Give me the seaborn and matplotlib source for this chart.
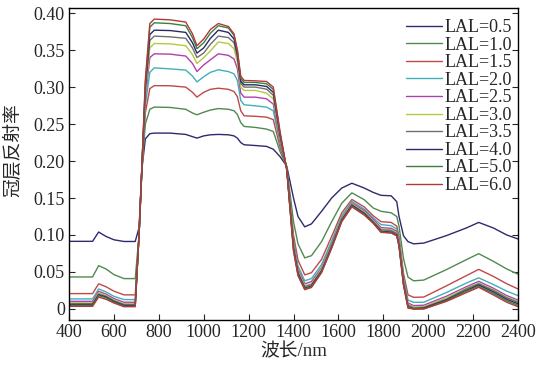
import numpy as np
import pandas as pd
import matplotlib
matplotlib.use("Agg")
import matplotlib.pyplot as plt
import seaborn as sns

# wavelength grid (nm)
wavelength = [400, 505, 532, 565, 600, 645, 695, 712, 725, 740, 760, 780, 850, 920, 950, 970,
              1000, 1030, 1065, 1110, 1135, 1150, 1165, 1180, 1230, 1280, 1310, 1340, 1370,
              1400, 1420, 1450, 1480, 1525, 1570, 1615, 1660, 1715, 1755, 1790, 1835, 1860,
              1870, 1890, 1910, 1935, 1980, 2080, 2170, 2225, 2290, 2350, 2400]

# canopy reflectance per leaf area level
lal_05 = [0.0914, 0.0914, 0.104, 0.098, 0.0935, 0.0912, 0.0912, 0.11, 0.19, 0.230, 0.237, 0.2378,
          0.2378, 0.236, 0.233, 0.231, 0.234, 0.2355, 0.236, 0.2355, 0.234, 0.231, 0.225, 0.222,
          0.221, 0.2198, 0.216, 0.206, 0.193, 0.150, 0.125, 0.111, 0.115, 0.132, 0.150, 0.1635,
          0.170, 0.1635, 0.1576, 0.1536, 0.153, 0.145, 0.125, 0.099, 0.091, 0.088, 0.089, 0.099,
          0.1095, 0.117, 0.1095, 0.100, 0.0946]
lal_10 = [0.0432, 0.0432, 0.0585, 0.054, 0.0464, 0.041, 0.041, 0.10, 0.19, 0.250, 0.270, 0.273,
          0.2725, 0.270, 0.265, 0.2626, 0.266, 0.269, 0.271, 0.270, 0.268, 0.263, 0.252, 0.2468,
          0.2455, 0.2432, 0.240, 0.213, 0.192, 0.118, 0.088, 0.069, 0.072, 0.091, 0.118, 0.143,
          0.157, 0.1477, 0.1365, 0.132, 0.130, 0.125, 0.112, 0.068, 0.043, 0.038, 0.039, 0.053,
          0.0666, 0.0747, 0.0644, 0.054, 0.047]
lal_15 = [0.0207, 0.0207, 0.034, 0.030, 0.024, 0.019, 0.019, 0.10, 0.19, 0.265, 0.298, 0.302,
          0.3018, 0.300, 0.293, 0.2865, 0.293, 0.297, 0.2985, 0.297, 0.294, 0.287, 0.268, 0.2612,
          0.2605, 0.2594, 0.256, 0.219, 0.191, 0.100, 0.066, 0.046, 0.049, 0.067, 0.098, 0.130,
          0.148, 0.138, 0.126, 0.118, 0.117, 0.112, 0.098, 0.048, 0.019, 0.0157, 0.016, 0.031,
          0.045, 0.0535, 0.044, 0.034, 0.027]
lal_20 = [0.0135, 0.0135, 0.027, 0.023, 0.017, 0.0126, 0.0126, 0.10, 0.19, 0.275, 0.320, 0.326,
          0.3247, 0.323, 0.315, 0.307, 0.314, 0.320, 0.3234, 0.321, 0.318, 0.309, 0.282, 0.2761,
          0.2747, 0.2729, 0.268, 0.224, 0.191, 0.093, 0.058, 0.038, 0.041, 0.060, 0.092, 0.126,
          0.1454, 0.135, 0.123, 0.114, 0.1126, 0.108, 0.094, 0.042, 0.012, 0.0089, 0.009, 0.022,
          0.035, 0.042, 0.033, 0.024, 0.018]
lal_25 = [0.0103, 0.0103, 0.0238, 0.020, 0.014, 0.009, 0.009, 0.10, 0.195, 0.285, 0.340, 0.345,
          0.3446, 0.342, 0.332, 0.321, 0.330, 0.337, 0.345, 0.343, 0.338, 0.325, 0.292, 0.2864,
          0.2864, 0.2842, 0.277, 0.228, 0.190, 0.089, 0.054, 0.034, 0.037, 0.056, 0.088, 0.123,
          0.1432, 0.133, 0.121, 0.110, 0.109, 0.105, 0.091, 0.038, 0.008, 0.0045, 0.005, 0.017,
          0.030, 0.0373, 0.028, 0.018, 0.012]
lal_30 = [0.0081, 0.0081, 0.0216, 0.018, 0.012, 0.0068, 0.0068, 0.10, 0.195, 0.290, 0.353, 0.359,
          0.3585, 0.356, 0.344, 0.332, 0.340, 0.349, 0.361, 0.359, 0.352, 0.334, 0.300, 0.2955,
          0.2955, 0.2918, 0.284, 0.232, 0.190, 0.086, 0.051, 0.0315, 0.034, 0.054, 0.086, 0.122,
          0.142, 0.131, 0.119, 0.108, 0.107, 0.103, 0.089, 0.036, 0.006, 0.003, 0.003, 0.015,
          0.028, 0.0351, 0.026, 0.016, 0.010]
lal_35 = [0.0072, 0.0072, 0.020, 0.017, 0.011, 0.006, 0.006, 0.10, 0.195, 0.295, 0.363, 0.369,
          0.368, 0.366, 0.353, 0.340, 0.346, 0.358, 0.369, 0.367, 0.360, 0.340, 0.305, 0.300,
          0.300, 0.2972, 0.289, 0.234, 0.189, 0.084, 0.049, 0.030, 0.033, 0.052, 0.085, 0.121,
          0.141, 0.130, 0.118, 0.107, 0.106, 0.102, 0.088, 0.035, 0.005, 0.0015, 0.002, 0.013,
          0.027, 0.034, 0.025, 0.015, 0.009]
lal_40 = [0.0058, 0.0058, 0.019, 0.016, 0.010, 0.0045, 0.0045, 0.10, 0.195, 0.300, 0.371, 0.377,
          0.3765, 0.374, 0.360, 0.346, 0.353, 0.366, 0.377, 0.374, 0.365, 0.345, 0.308, 0.3031,
          0.3031, 0.3009, 0.293, 0.236, 0.189, 0.082, 0.048, 0.028, 0.031, 0.051, 0.084, 0.120,
          0.140, 0.129, 0.117, 0.105, 0.104, 0.100, 0.086, 0.034, 0.003, 0.000, 0.001, 0.012,
          0.025, 0.0324, 0.023, 0.013, 0.007]
lal_50 = [0.0049, 0.0049, 0.018, 0.015, 0.009, 0.0036, 0.0036, 0.10, 0.195, 0.305, 0.381, 0.387,
          0.386, 0.383, 0.367, 0.352, 0.360, 0.373, 0.383, 0.380, 0.370, 0.349, 0.312, 0.3063,
          0.3063, 0.3045, 0.297, 0.238, 0.188, 0.080, 0.046, 0.027, 0.030, 0.050, 0.083, 0.119,
          0.139, 0.128, 0.116, 0.104, 0.103, 0.099, 0.085, 0.033, 0.002, 0.000, 0.000, 0.011,
          0.024, 0.0306, 0.021, 0.011, 0.005]
lal_60 = [0.0035, 0.0035, 0.016, 0.013, 0.008, 0.003, 0.003, 0.10, 0.195, 0.310, 0.386, 0.392,
          0.391, 0.388, 0.372, 0.356, 0.365, 0.378, 0.386, 0.382, 0.372, 0.350, 0.315, 0.309,
          0.3085, 0.3076, 0.300, 0.240, 0.188, 0.078, 0.045, 0.026, 0.029, 0.049, 0.082, 0.118,
          0.138, 0.127, 0.116, 0.1035, 0.1027, 0.099, 0.085, 0.032, 0.001, 0.000, 0.000, 0.010,
          0.022, 0.0292, 0.019, 0.009, 0.003]

labels = ["LAL=0.5", "LAL=1.0", "LAL=1.5", "LAL=2.0", "LAL=2.5",
          "LAL=3.0", "LAL=3.5", "LAL=4.0", "LAL=5.0", "LAL=6.0"]
series = [lal_05, lal_10, lal_15, lal_20, lal_25, lal_30, lal_35, lal_40, lal_50, lal_60]
colors = ["#2e2a6e", "#4f8a4f", "#c04848", "#3fb0b8", "#b040b0",
          "#b8c840", "#707070", "#2a2a6a", "#3e7e3e", "#b03a3a"]

df = pd.concat([pd.DataFrame({"wl": wavelength, "refl": s, "lal": lab})
                for s, lab in zip(series, labels)], ignore_index=True)

sns.set_style("ticks")
plt.rcParams["font.family"] = ["Liberation Serif", "Noto Sans CJK SC"]

fig = plt.figure(figsize=(5.38, 3.67), dpi=100)
ax = fig.add_axes([69 / 538, 47 / 367, 449 / 538, 312 / 367])

sns.lineplot(data=df, x="wl", y="refl", hue="lal", hue_order=labels,
             palette=colors, estimator=None, sort=False, linewidth=1.0, ax=ax)

ax.set_xlim(400, 2400)
ax.set_ylim(-0.015, 0.407)
ax.set_xticks(np.arange(400, 2401, 200))
yt = np.arange(0, 0.401, 0.05)
ax.set_yticks(yt)
ax.set_yticklabels(["0"] + [f"{v:.2f}" for v in yt[1:]])
ax.tick_params(direction="in", length=4, width=0.8, labelsize=13,
               right=True, top=False, pad=3)

for sp in ax.spines.values():
    sp.set_visible(True)
    sp.set_color("black")
    sp.set_linewidth(1.0)

ax.set_xlabel("波长/nm", fontsize=13.5, labelpad=1)
ax.set_ylabel("冠层反射率", fontsize=13.5)
ax.yaxis.set_label_coords(-0.105, 0.545)

ax.legend(loc="upper right", bbox_to_anchor=(0.99, 0.97), frameon=False,
          fontsize=13, labelspacing=0.03, handlelength=2.0, handletextpad=0.1,
          borderpad=0.1, borderaxespad=0.0)

fig.savefig("out.png", dpi=100, facecolor="white")
